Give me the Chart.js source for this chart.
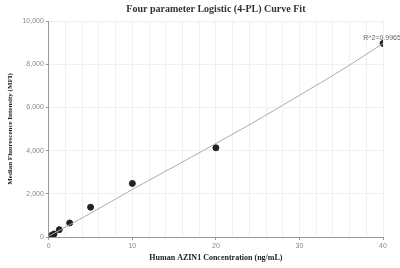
<!DOCTYPE html>
<html><head><meta charset="utf-8">
<script src="https://cdn.jsdelivr.net/npm/chart.js@4/dist/chart.umd.min.js"></script>
<style>html,body{margin:0;padding:0;background:#fff}#wrap{width:400px;height:268px}</style>
</head><body><div id="wrap"><canvas id="c" width="400" height="268"></canvas></div>
<script>
const concentrations = [0.3125, 0.625, 1.25, 2.5, 5, 10, 20, 40];
const mfiValues = [70, 140, 340, 650, 1380, 2480, 4130, 8960];
const fitX = [0, 5, 10, 15, 20, 25, 30, 35, 40];
const fitY = [40, 1100, 2200, 3260, 4330, 5420, 6560, 7720, 8960];
const yTicks = [0, 2000, 4000, 6000, 8000, 10000];
const xLabelTicks = [0, 10, 20, 30, 40];
const chartTitle = 'Four parameter Logistic (4-PL) Curve Fit';
const r2Label = "R^2=0.9965";

const labelPlugin = {
  id: 'r2',
  afterDatasetsDraw(chart) {
    const {ctx, scales, chartArea} = chart;
    const x = scales.x.getPixelForValue(concentrations[concentrations.length-1]);
    const y = scales.y.getPixelForValue(mfiValues[mfiValues.length-1]);
    ctx.save();
    ctx.font = '7px "Liberation Sans", Arial, sans-serif';
    ctx.fillStyle = '#666';
    ctx.textAlign = 'center';
    ctx.textBaseline = 'bottom';
    ctx.fillText(r2Label, x - 1, y - 2);
    ctx.font = 'bold 10px "Liberation Serif", serif';
    ctx.fillStyle = '#333';
    ctx.textBaseline = 'middle';
    ctx.fillText(chartTitle, (chartArea.left + chartArea.right) / 2, 9);
    ctx.restore();
  }
};

new Chart(document.getElementById('c'), {
  type: 'scatter',
  data: {
    datasets: [
      {
        type: 'line',
        data: fitX.map((x, i) => ({x, y: fitY[i]})),
        borderColor: '#aaaaaa',
        borderWidth: 1,
        pointRadius: 0,
        tension: 0.4,
        fill: false
      },
      {
        data: concentrations.map((x, i) => ({x, y: mfiValues[i]})),
        backgroundColor: '#222222',
        borderColor: '#222222',
        pointRadius: 3,
        pointHoverRadius: 3
      }
    ]
  },
  options: {
    responsive: false,
    animation: false,
    layout: {padding: {left: 6, right: 17, top: 21, bottom: 5}},
    plugins: {
      legend: {display: false},
      tooltip: {enabled: false},
      title: {display: false}
    },
    scales: {
      x: {
        type: 'linear',
        min: 0, max: 40,
        ticks: {
          stepSize: 2,
          autoSkip: false,
          maxRotation: 0,
          font: {family: '"Liberation Sans", Arial, sans-serif', size: 7},
          color: '#888',
          padding: 2,
          callback: v => xLabelTicks.includes(v) ? String(v) : ''
        },
        grid: {
          color: '#eef0f6',
          tickLength: 3,
          tickColor: ctx => (ctx.tick && xLabelTicks.includes(ctx.tick.value)) ? '#999' : 'rgba(0,0,0,0)'
        },
        border: {color: '#999'},
        title: {
          display: true,
          text: 'Human AZIN1 Concentration (ng/mL)',
          font: {family: '"Liberation Serif", serif', size: 8, weight: 'bold'},
          color: '#222',
          padding: {top: 1, bottom: 0}
        }
      },
      y: {
        min: 0, max: 10000,
        afterBuildTicks: s => { s.ticks = yTicks.map(v => ({value: v})); },
        ticks: {
          font: {family: '"Liberation Sans", Arial, sans-serif', size: 7},
          color: '#888',
          padding: 2
        },
        grid: {color: '#eef0f6', tickLength: 3, tickColor: '#999'},
        border: {color: '#999'},
        title: {
          display: true,
          text: 'Median Fluorescence Intensity (MFI)',
          font: {family: '"Liberation Serif", serif', size: 7, weight: 'bold'},
          color: '#222',
          padding: {top: 0, bottom: 6}
        }
      }
    }
  },
  plugins: [labelPlugin]
});
</script></body></html>
